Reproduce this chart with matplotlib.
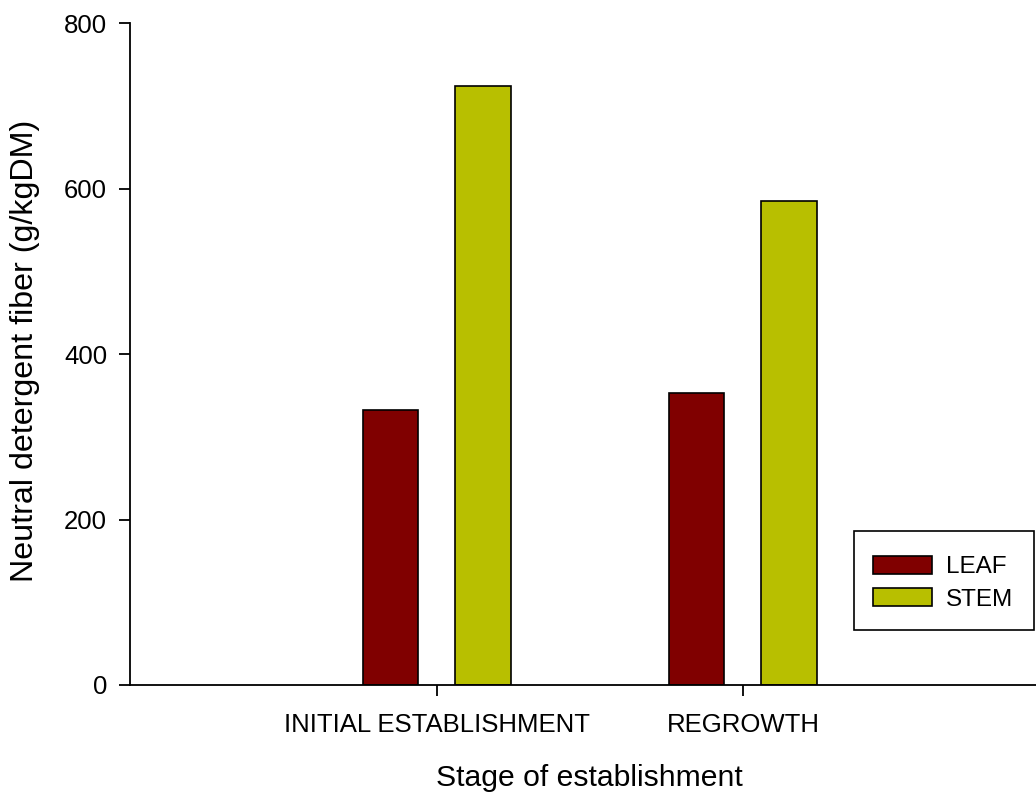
import matplotlib
matplotlib.use("Agg")
import matplotlib.pyplot as plt
from matplotlib.patches import Rectangle
import numpy as np

plt.rcParams['font.family'] = ['Liberation Sans', 'DejaVu Sans']

stages = ["INITIAL ESTABLISHMENT", "REGROWTH"]
leaf = [333, 353]
stem = [724, 585]
series_names = ["LEAF", "STEM"]
colors = ["#800000", "#B8BF00"]

W, H = 1036, 794
fig = plt.figure(figsize=(W / 100, H / 100), dpi=100)
# the x axis runs past the right edge of the canvas
ax = fig.add_axes([130 / W, 109 / H, 919 / W, 661.7 / H])

x = np.arange(len(stages))
width = 0.181
ax.bar(x - 0.151, leaf, width, color=colors[0], edgecolor="black", linewidth=1.2, label=series_names[0])
ax.bar(x + 0.150, stem, width, color=colors[1], edgecolor="black", linewidth=1.2, label=series_names[1])

ax.set_xlim(-1.003, 2.0)
ax.set_ylim(0, 800)
ax.set_yticks([0, 200, 400, 600, 800])
ax.set_xticks(x)
ax.set_xticklabels(stages)

for side in ["top", "right"]:
    ax.spines[side].set_visible(False)
for side in ["left", "bottom"]:
    ax.spines[side].set_linewidth(1.3)
ax.tick_params(axis="both", direction="out", length=8, width=1.3, labelsize=18.5)
ax.tick_params(axis="y", pad=8.5)
ax.tick_params(axis="x", pad=12)

ax.set_xlabel("Stage of establishment", fontsize=21.7)
ax.xaxis.set_label_coords(0.5, -0.119)
ax.set_ylabel("Neutral detergent fiber (g/kgDM)", fontsize=23.2)
ax.yaxis.set_label_coords(-0.0977, 0.505)

leg = ax.legend(loc="upper left", bbox_to_anchor=(854 / W, 1 - 536.5 / H),
                bbox_transform=fig.transFigure, borderaxespad=0, fontsize=17.5,
                frameon=False, handlelength=2.4, handleheight=0.74, handletextpad=0.6,
                labelspacing=0.42, borderpad=0.8)
for h in leg.legend_handles:
    h.set_edgecolor("black")
    h.set_linewidth(1.2)

# legend border
fig.patches.append(Rectangle((854 / W, 1 - 630 / H), 180 / W, 99 / H,
                             transform=fig.transFigure, fill=False,
                             edgecolor="black", linewidth=1.2))

fig.savefig("out.png", dpi=100)
